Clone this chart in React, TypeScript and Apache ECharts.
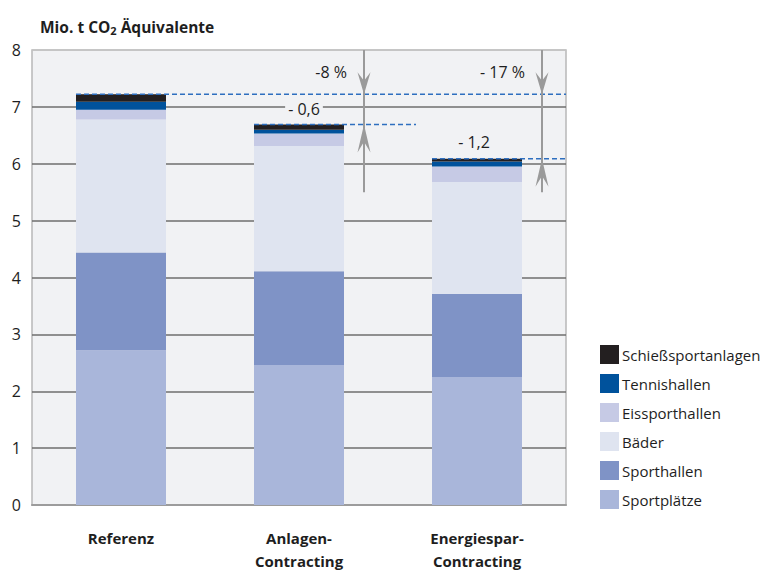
import React, { useEffect, useRef } from 'react';
import * as echarts from 'echarts';

const categories = ['Referenz', 'Anlagen-\nContracting', 'Energiespar-\nContracting'];
const sportplaetze = [2.72, 2.46, 2.25];
const sporthallen = [1.72, 1.65, 1.46];
const baeder = [2.34, 2.2, 1.97];
const eissporthallen = [0.17, 0.22, 0.27];
const tennishallen = [0.14, 0.07, 0.09];
const schiesssport = [0.13, 0.09, 0.05];
const diffLabels = ['', '- 0,6', '- 1,2'];
const pctLabels = ['', '-8 %', '- 17 %'];
const Y_MIN = 0;
const Y_MAX = 8;
const ARROW_BOTTOM = 5.5;

const W = 761;
const H = 572;
const GRID = { left: 32, right: 195, top: 50, bottom: 63 };
const BAR_W = 90;
const FONT = '"Open Sans", "Noto Sans", sans-serif';
const TXT = '#1e1e1e';
const DASH = '#2e6fbf';
const ARROW = '#9a9a9a';
const PLOT_BG = '#f1f2f4';

const seriesDefs = [
  { name: 'Sportplätze', data: sportplaetze, color: '#a9b6da' },
  { name: 'Sporthallen', data: sporthallen, color: '#7f93c6' },
  { name: 'Bäder', data: baeder, color: '#dfe4f0' },
  { name: 'Eissporthallen', data: eissporthallen, color: '#c6cae5' },
  { name: 'Tennishallen', data: tennishallen, color: '#00529c' },
  { name: 'Schießsportanlagen', data: schiesssport, color: '#231f20' },
];

export default function App() {
  const ref = useRef<HTMLDivElement>(null);
  useEffect(() => {
    if (!ref.current) return;
    const chart = echarts.init(ref.current, undefined, { renderer: 'svg', width: W, height: H });
    const splitColors: string[] = [];
    for (let v = Y_MIN; v <= Y_MAX; v++) splitColors.push(v === Y_MAX ? '#c4c4c4' : '#6e6e6e');
    chart.setOption({
      animation: false,
      backgroundColor: '#ffffff',
      textStyle: { fontFamily: FONT },
      title: {
        left: 35,
        top: 12,
        text: 'Mio. t CO{s|2} Äquivalente',
        textStyle: {
          fontFamily: FONT,
          fontWeight: 'bold',
          fontSize: 15.5,
          color: TXT,
          rich: {
            s: { fontFamily: FONT, fontWeight: 'bold', fontSize: 11, color: TXT, padding: [8, 0, 0, 0] },
          },
        },
      },
      grid: {
        left: GRID.left,
        right: GRID.right,
        top: GRID.top,
        bottom: GRID.bottom,
        show: true,
        backgroundColor: PLOT_BG,
        borderColor: '#b8b8b8',
        borderWidth: 1.5,
      },
      legend: {
        orient: 'vertical',
        left: 595,
        top: 340,
        itemWidth: 19,
        itemHeight: 19,
        itemGap: 10,
        icon: 'rect',
        data: seriesDefs.map((s) => s.name).reverse(),
        textStyle: { fontFamily: FONT, fontSize: 15, color: TXT, padding: [0, 0, 0, -2] },
      },
      xAxis: {
        type: 'category',
        data: categories,
        axisTick: { show: false },
        axisLine: { lineStyle: { color: '#9c9c9c', width: 2 } },
        axisLabel: {
          fontFamily: FONT,
          fontWeight: 'bold',
          fontSize: 15,
          lineHeight: 23,
          color: TXT,
          margin: 21,
        },
      },
      yAxis: {
        type: 'value',
        min: Y_MIN,
        max: Y_MAX,
        interval: 1,
        axisLine: { show: false },
        axisTick: { show: false },
        axisLabel: { fontFamily: FONT, fontSize: 16, color: TXT, margin: 11 },
        splitLine: { lineStyle: { color: splitColors, width: 1.5 } },
      },
      series: seriesDefs.map((s) => ({
        name: s.name,
        type: 'bar',
        stack: 'total',
        barWidth: BAR_W,
        data: s.data,
        itemStyle: { color: s.color },
        emphasis: { disabled: true },
      })),
    });

    const totals = categories.map((_, i) =>
      seriesDefs.reduce((acc, s) => acc + s.data[i], 0)
    );
    const px = (i: number, v: number) => chart.convertToPixel({ gridIndex: 0 }, [i, v]) as number[];
    const plotRight = W - GRID.right;
    const yTop = px(0, Y_MAX)[1];
    const yBottomArrow = px(0, ARROW_BOTTOM)[1];
    const graphics: any[] = [];

    const arrowHead = (x: number, tipY: number, dir: number, len: number) => {
      const hw = 6.5;
      return {
        type: 'polygon',
        z: 101,
        shape: {
          points: [
            [x, tipY],
            [x - hw, tipY - dir * len],
            [x, tipY - dir * len * 0.62],
            [x + hw, tipY - dir * len],
          ],
        },
        style: { fill: ARROW },
      };
    };

    const ref0 = px(0, totals[0]);
    graphics.push({
      type: 'line',
      z: 100,
      shape: { x1: ref0[0] - BAR_W / 2, y1: ref0[1], x2: plotRight, y2: ref0[1] },
      style: { stroke: DASH, lineWidth: 1.5, lineDash: [5, 3] },
    });

    for (let i = 1; i < categories.length; i++) {
      const c = px(i, totals[i]);
      const barLeft = c[0] - BAR_W / 2;
      const barRight = c[0] + BAR_W / 2;
      const ax = barRight + 20;
      const lineEnd = i === categories.length - 1 ? plotRight : ax + 52;
      graphics.push({
        type: 'line',
        z: 100,
        shape: { x1: barLeft, y1: c[1], x2: lineEnd, y2: c[1] },
        style: { stroke: DASH, lineWidth: 1.5, lineDash: [5, 3] },
      });
      graphics.push({
        type: 'line',
        z: 100,
        shape: { x1: ax, y1: yTop, x2: ax, y2: yBottomArrow },
        style: { stroke: ARROW, lineWidth: 2 },
      });
      graphics.push(arrowHead(ax, ref0[1], 1, 22));
      graphics.push(arrowHead(ax, c[1], -1, 28));
      graphics.push({
        type: 'text',
        z: 102,
        x: ax - 17,
        y: (yTop + ref0[1]) / 2,
        style: {
          text: pctLabels[i],
          font: `16px ${FONT}`,
          fill: TXT,
          align: 'right',
          verticalAlign: 'middle',
        },
      });
      const mid = px(i, (totals[i - 1] + totals[i]) / 2);
      graphics.push({
        type: 'text',
        z: 102,
        x: c[0] + (i === 1 ? 5 : -3),
        y: mid[1],
        style: {
          text: diffLabels[i],
          font: `16px ${FONT}`,
          fill: TXT,
          align: 'center',
          verticalAlign: 'middle',
          backgroundColor: PLOT_BG,
          padding: [0, 3, 0, 3],
        },
      });
    }
    chart.setOption({ graphic: graphics });

    return () => chart.dispose();
  }, []);
  return <div ref={ref} style={{ position: 'fixed', left: 0, top: 0, width: W, height: H }} />;
}
